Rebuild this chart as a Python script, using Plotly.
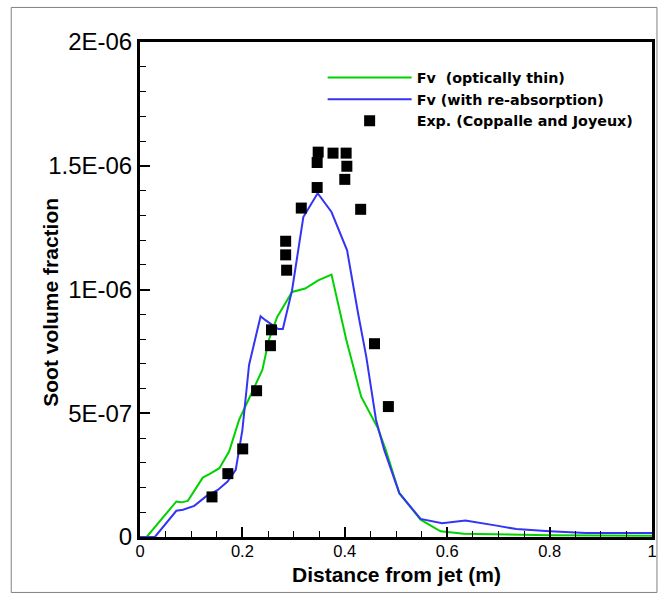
import plotly.graph_objects as go

# ---- data (y values in units of 1E-06) ----
thin_x = [0, 0.013, 0.071, 0.081, 0.0935, 0.1226, 0.1355, 0.155, 0.174, 0.1935, 0.239, 0.2516,
          0.268, 0.297, 0.3226, 0.348, 0.374, 0.3935, 0.403, 0.432, 0.439, 0.4645, 0.48, 0.5065,
          0.548, 0.587, 0.632, 0.70, 0.8, 1.0]
thin_y = [0, 0, 0.1435, 0.14, 0.146, 0.24, 0.254, 0.278, 0.345, 0.473, 0.675, 0.796,
          0.889, 0.99, 1.004, 1.037, 1.06, 0.876, 0.796, 0.567, 0.54, 0.44, 0.352, 0.177,
          0.07, 0.023, 0.013, 0.01, 0.007, 0.005]

reab_x = [0, 0.029, 0.071, 0.084, 0.106, 0.129, 0.152, 0.171, 0.187, 0.2, 0.213, 0.2355, 0.245,
          0.270, 0.279, 0.297, 0.319, 0.347, 0.374, 0.4045, 0.426, 0.442, 0.461, 0.477, 0.5065,
          0.548, 0.59, 0.6355, 0.6966, 0.735, 0.8, 0.871, 1.0]
reab_y = [0, 0, 0.106, 0.11, 0.126, 0.164, 0.19, 0.224, 0.271, 0.433, 0.695, 0.892, 0.876,
          0.84, 0.84, 0.997, 1.293, 1.389, 1.313, 1.158, 0.903, 0.728, 0.473, 0.352, 0.177,
          0.073, 0.056, 0.067, 0.046, 0.032, 0.023, 0.016, 0.016]

exp_x = [0.1406, 0.1716, 0.2006, 0.2277, 0.2548, 0.2568, 0.2845, 0.2845, 0.2864, 0.315,
         0.346, 0.346, 0.348, 0.377, 0.4, 0.4026, 0.404, 0.431, 0.458, 0.4851]
exp_y = [0.162, 0.256, 0.356, 0.591, 0.773, 0.837, 1.195, 1.14, 1.078, 1.329,
         1.412, 1.513, 1.555, 1.551, 1.445, 1.551, 1.498, 1.324, 0.781, 0.527]

x_tick_vals = [0, 0.2, 0.4, 0.6, 0.8, 1]
x_tick_text = ["0", "0.2", "0.4", "0.6", "0.8", "1"]
y_tick_vals = [0, 0.5e-6, 1e-6, 1.5e-6, 2e-6]
y_tick_text = ["0", "5E-07", "1E-06", "1.5E-06", "2E-06"]

scale = 1e-6
fig = go.Figure()
fig.add_trace(go.Scatter(x=thin_x, y=[v * scale for v in thin_y], mode="lines",
                         name="Fv  (optically thin)", line=dict(color="#00D200", width=2)))
fig.add_trace(go.Scatter(x=reab_x, y=[v * scale for v in reab_y], mode="lines",
                         name="Fv (with re-absorption)", line=dict(color="#3434F4", width=2)))
fig.add_trace(go.Scatter(x=exp_x, y=[v * scale for v in exp_y], mode="markers",
                         name="Exp. (Coppalle and Joyeux)",
                         marker=dict(symbol="square", size=11, color="black")))

font = "Liberation Sans, Arial, sans-serif"
fig.update_layout(
    width=667, height=600,
    margin=dict(l=140, r=10, t=42, b=63),
    paper_bgcolor="white", plot_bgcolor="white",
    font=dict(family=font, color="black"),
    showlegend=True,
    legend=dict(x=0.3567, y=0.960, xanchor="left", yanchor="top",
                bgcolor="rgba(0,0,0,0)", itemwidth=84, tracegroupgap=0,
                font=dict(family="DejaVu Sans, sans-serif", size=14.3, color="black",
                          weight="bold")),
    xaxis=dict(range=[0, 1], showgrid=False, zeroline=False, showline=True, linewidth=3,
               linecolor="black", mirror=True, ticks="inside", ticklen=10, tickwidth=2,
               tickcolor="black", tickvals=x_tick_vals, ticktext=x_tick_text,
               tickfont=dict(size=16.5), ticklabelstandoff=-3,
               minor=dict(ticks="inside", dtick=0.05, ticklen=6, tickwidth=1, tickcolor="black")),
    yaxis=dict(range=[0, 2e-6], showgrid=False, zeroline=False, showline=True, linewidth=3,
               linecolor="black", mirror=True, ticks="inside", ticklen=10, tickwidth=2,
               tickcolor="black", tickvals=y_tick_vals, ticktext=y_tick_text,
               tickfont=dict(size=24),
               minor=dict(ticks="inside", dtick=1e-7, ticklen=6, tickwidth=1, tickcolor="black")),
    annotations=[
        dict(text="<b>Distance from jet (m)</b>", xref="paper", yref="paper", x=0.5, y=-0.076,
             xanchor="center", yanchor="middle", showarrow=False, font=dict(size=21)),
        dict(text="<b>Soot volume fraction</b>", xref="paper", yref="paper", x=-0.174, y=0.475,
             xanchor="center", yanchor="middle", showarrow=False, textangle=-90,
             font=dict(size=21)),
    ],
    shapes=[dict(type="rect", xref="paper", yref="paper", x0=-0.2515, x1=1.0097,
                 y0=-0.112, y1=1.0698, line=dict(color="#808080", width=1), layer="below")],
)

fig.write_html("out.html", config={"displayModeBar": False},
               post_script="document.body.style.margin='0';")
